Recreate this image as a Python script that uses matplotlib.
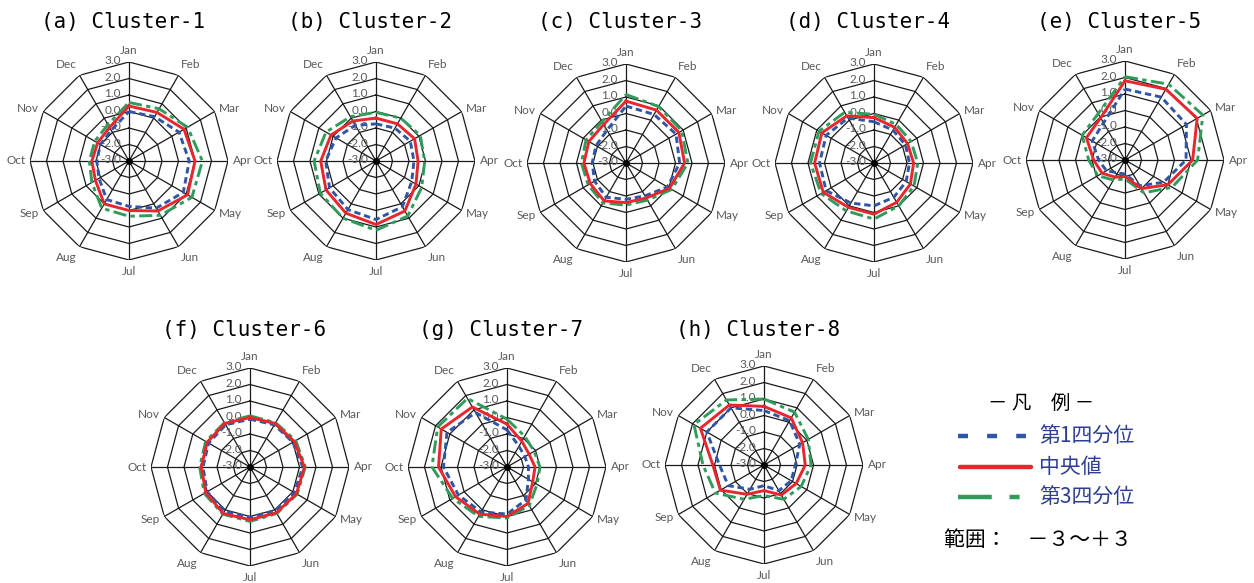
import numpy as np
import matplotlib
matplotlib.use("Agg")
import matplotlib.pyplot as plt

plt.rcParams['font.family'] = ['Noto Sans CJK JP', 'DejaVu Sans']

months = ["Jan", "Feb", "Mar", "Apr", "May", "Jun",
          "Jul", "Aug", "Sep", "Oct", "Nov", "Dec"]
titles = ["(a) Cluster-1", "(b) Cluster-2", "(c) Cluster-3", "(d) Cluster-4",
          "(e) Cluster-5", "(f) Cluster-6", "(g) Cluster-7", "(h) Cluster-8"]
ring_values = [3.0, 2.0, 1.0, 0.0, -1.0, -2.0, -3.0]

# first quartile, per cluster, Jan..Dec
q1 = [
    [0.0, 0.1, 0.5, 0.65, 0.8, 0.3, -0.25, -0.3, -0.9, -1.05, -1.0, -0.85],
    [-0.75, -0.7, -0.6, -0.7, -0.5, 0.2, 0.55, 0.4, 0.25, 0.05, -0.2, -0.5],
    [0.45, 0.4, 0.5, 0.25, -0.1, -0.7, -0.8, -0.6, -0.8, -0.95, -0.9, -0.7],
    [-0.5, -0.7, -0.8, -0.85, -0.75, -0.6, -0.4, -0.2, 0.35, 0.3, 0.35, 0.15],
    [1.3, 1.4, 1.3, 0.7, -0.3, -1.2, -2.15, -2.1, -1.7, -1.4, -0.7, -0.4],
    [-0.1, -0.05, 0.0, 0.2, 0.1, 0.05, 0.05, 0.1, 0.0, -0.15, -0.1, -0.05],
    [-0.75, -1.55, -1.75, -1.7, -1.5, -0.7, -0.15, 0.15, 0.4, 0.85, 1.2, 0.8],
    [0.3, 0.1, -0.5, -1.1, -1.1, -1.2, -1.75, -1.3, -0.5, -0.3, 1.0, 1.0],
]
# median
median = [
    [0.33, 0.4, 0.85, 1.0, 1.1, 0.5, 0.0, 0.0, -0.65, -0.75, -0.8, -0.65],
    [-0.4, -0.4, -0.3, -0.45, -0.2, 0.5, 0.85, 0.65, 0.5, 0.35, 0.15, -0.2],
    [0.75, 0.7, 0.7, 0.55, 0.05, -0.55, -0.6, -0.35, -0.5, -0.45, -0.4, -0.3],
    [-0.25, -0.5, -0.65, -0.6, -0.45, -0.25, 0.1, 0.1, 0.55, 0.6, 0.65, 0.3],
    [1.8, 1.95, 2.05, 1.1, 0.0, -1.0, -2.0, -1.8, -1.4, -1.1, -0.3, -0.05],
    [0.0, 0.05, 0.1, 0.3, 0.25, 0.2, 0.2, 0.25, 0.1, -0.05, 0.0, 0.05],
    [-0.4, -1.2, -1.45, -1.3, -1.2, -0.45, 0.0, 0.3, 0.6, 1.15, 1.6, 1.2],
    [0.55, 0.3, -0.3, -0.5, -0.75, -0.9, -1.45, -0.95, 0.05, 0.1, 1.45, 1.2],
]
# third quartile
q3 = [
    [0.55, 0.65, 1.1, 1.45, 1.4, 0.8, 0.35, 0.3, -0.4, -0.6, -0.6, -0.45],
    [-0.05, 0.0, 0.1, -0.05, 0.2, 0.85, 1.2, 1.0, 0.9, 0.75, 0.5, 0.1],
    [1.15, 0.95, 0.9, 0.75, 0.2, -0.4, -0.45, -0.2, -0.35, -0.3, -0.2, -0.1],
    [-0.05, -0.3, -0.4, -0.35, -0.2, 0.0, 0.4, 0.35, 0.7, 0.85, 0.85, 0.55],
    [2.05, 2.3, 2.45, 1.4, 0.3, -0.7, -1.85, -1.6, -1.1, -0.8, 0.0, 0.25],
    [0.1, 0.1, 0.2, 0.35, 0.3, 0.25, 0.3, 0.3, 0.2, 0.05, 0.1, 0.1],
    [-0.1, -0.85, -1.1, -1.0, -0.9, -0.3, 0.1, 0.45, 0.8, 1.55, 1.85, 1.8],
    [1.0, 0.7, 0.1, -0.15, -0.4, -0.6, -1.15, -0.6, 0.4, 0.7, 1.9, 1.55],
]

legend_labels = ["第1四分位", "中央値", "第3四分位"]

BLUE = "#2f56a6"
RED = "#e8262d"
GREEN = "#2f9c5c"
LABEL_GRAY = "#595959"
LEGEND_TEXT = "#2d3e94"

W, H = 1254, 583
fig = plt.figure(figsize=(W / 100, H / 100), dpi=100)
fig.patch.set_facecolor("white")

# chart centres in pixels (x from left, y from top) and radius
centres = [(129, 161), (376, 161), (626, 163), (874, 163), (1125, 160),
           (250, 467), (507, 467), (764, 465)]
R = 99

theta = np.linspace(0, 2 * np.pi, 12, endpoint=False)
theta_c = np.append(theta, theta[0])


def closed(vals):
    v = list(vals)
    return v + v[:1]


for i, (cx, cy) in enumerate(centres):
    ax = fig.add_axes([(cx - R) / W, 1 - (cy + R) / H, 2 * R / W, 2 * R / H],
                      projection="polar")
    ax.set_theta_zero_location("N")
    ax.set_theta_direction(-1)
    ax.set_ylim(-3, 3)
    ax.grid(False)
    ax.set_xticks([])
    ax.set_yticks([])
    ax.spines["polar"].set_visible(False)
    ax.patch.set_alpha(0)

    # polygon rings and spokes
    for v in ring_values[:-1]:
        ax.plot(theta_c, [v] * 13, color="#1a1a1a", lw=0.9, zorder=1)
    for th in theta:
        ax.plot([th, th], [-3, 3], color="#1a1a1a", lw=0.9, zorder=1)
    ax.plot([0], [-3], marker="o", ms=4, color="black", zorder=2)

    # radial value labels along the Jan spoke
    for v in ring_values:
        ax.annotate(f"{v:.1f}", xy=(0, v), xytext=(-6, 1),
                    textcoords="offset points", ha="right", va="center",
                    fontsize=8.5, color=LABEL_GRAY, family="Lato", zorder=3)

    # month labels
    for th, m in zip(theta, months):
        s, c = np.sin(th), np.cos(th)
        ha = "center" if abs(s) < 0.1 else ("left" if s > 0 else "right")
        va = "center" if abs(c) < 0.1 else ("bottom" if c > 0 else "top")
        if abs(c) < 0.6 and abs(c) > 0.1:
            va = "center"
        ax.annotate(m, xy=(th, 3), xytext=(3.5 * s, 4 * c),
                    textcoords="offset points", ha=ha, va=va,
                    fontsize=8.5, color=LABEL_GRAY, family="Lato")

    ax.plot(theta_c, closed(q3[i]), color=GREEN, lw=2.1,
            dashes=(4.5, 1.5, 1.5, 1.5), zorder=4)
    ax.plot(theta_c, closed(q1[i]), color=BLUE, lw=2.1,
            dashes=(2.2, 1.3), zorder=5)
    ax.plot(theta_c, closed(median[i]), color=RED, lw=2.1, zorder=6)

    ty = 22 if cy < 300 else 330
    fig.text((cx - 6) / W, 1 - ty / H, titles[i], ha="center", va="center",
             fontsize=15, family="DejaVu Sans Mono", color="black")

# legend panel
lax = fig.add_axes([930 / W, 1 - 565 / H, 230 / W, 190 / H])
lax.set_xlim(930, 1160)
lax.set_ylim(565, 375)
lax.axis("off")
lax.text(1041, 403, "－ 凡　例 －", ha="center", va="center", fontsize=14,
         color="black")
lax.plot([958, 1026], [436, 436], color=BLUE, lw=3.2, dashes=(2.25, 4.3),
         dash_capstyle="butt")
lax.plot([960, 1031], [467, 467], color=RED, lw=3.2, solid_capstyle="round")
lax.plot([958, 1020], [497, 497], color=GREEN, lw=3.2,
         dashes=(7.6, 4.0, 2.25, 4.0), dash_capstyle="butt")
for y, lab in zip([436, 467, 497], legend_labels):
    lax.text(1039, y, lab, ha="left", va="center", fontsize=15,
             color=LEGEND_TEXT)
lax.text(944, 540, "範囲：　－３～＋３", ha="left", va="center",
         fontsize=15, color="black")

fig.savefig("out.png", dpi=100, facecolor="white")
